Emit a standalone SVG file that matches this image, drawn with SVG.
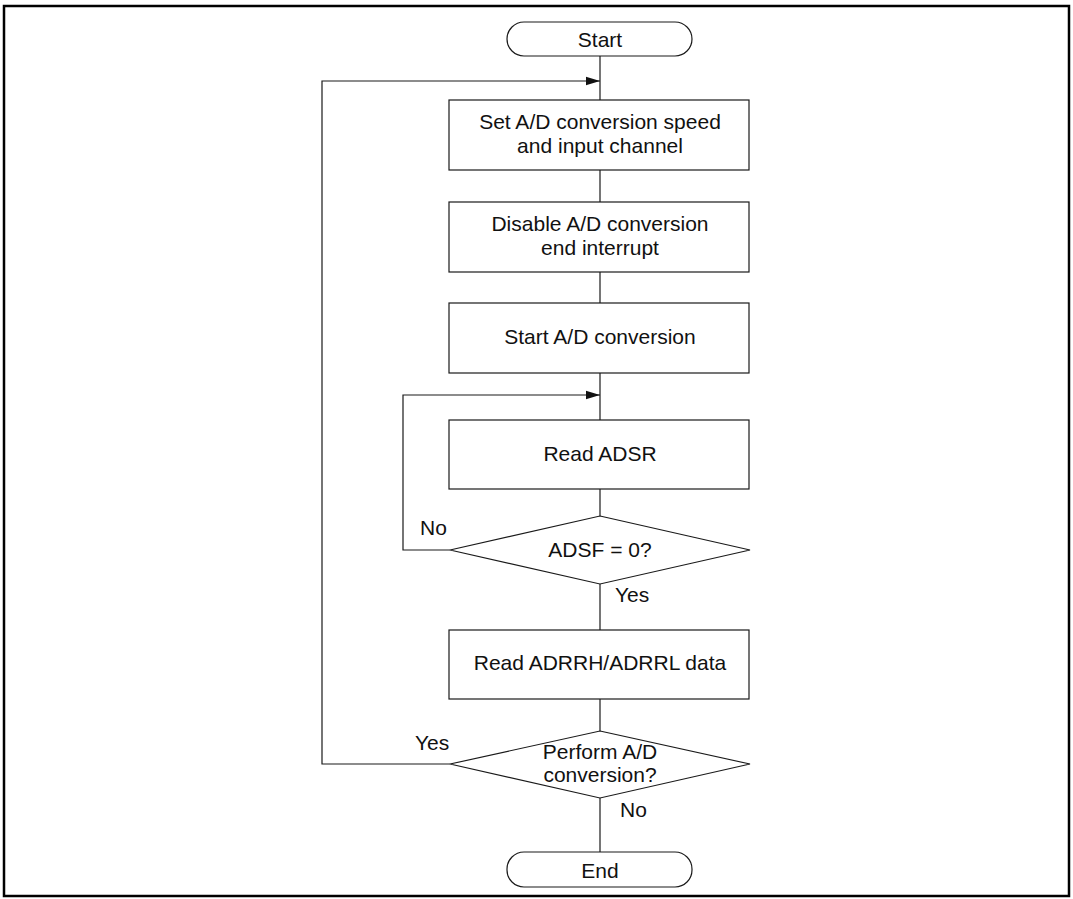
<svg xmlns="http://www.w3.org/2000/svg" width="1073" height="899" viewBox="0 0 1073 899">
<defs>
<style>
.s{fill:#fff;stroke:#1a1a1a;stroke-width:1.2}
.c{fill:none;stroke:#1a1a1a;stroke-width:1.2}
.t{font-family:"Liberation Sans",Arial,sans-serif;font-size:21px;fill:#111;text-anchor:middle}
.l{font-family:"Liberation Sans",Arial,sans-serif;font-size:21px;fill:#111}
</style>
<marker id="ah" markerWidth="15" markerHeight="10" refX="14" refY="5" orient="auto" markerUnits="userSpaceOnUse">
<path d="M0,0.8 L14,5 L0,9.2 Z" fill="#111"/>
</marker>
</defs>
<rect x="4" y="6" width="1065" height="890" fill="#fff" stroke="#000" stroke-width="2.5"/>
<g id="connectors">
<line class="c" x1="600" y1="56" x2="600" y2="100"/>
<line class="c" x1="600" y1="170" x2="600" y2="202"/>
<line class="c" x1="600" y1="272" x2="600" y2="303"/>
<line class="c" x1="600" y1="373" x2="600" y2="420"/>
<line class="c" x1="600" y1="489" x2="600" y2="516"/>
<line class="c" x1="600" y1="584" x2="600" y2="630"/>
<line class="c" x1="600" y1="699" x2="600" y2="731"/>
<line class="c" x1="600" y1="798" x2="600" y2="852"/>
<polyline class="c" points="450,550 403,550 403,395 600,395" marker-end="url(#ah)"/>
<polyline class="c" points="450,764 322,764 322,81 600,81" marker-end="url(#ah)"/>
<text class="l" x="420" y="535">No</text>
<text class="l" x="615" y="602">Yes</text>
<text class="l" x="415" y="750">Yes</text>
<text class="l" x="620" y="817">No</text>
</g>
<g id="start">
<rect class="s" x="507" y="22" width="185" height="34" rx="17" ry="17"/>
<text class="t" x="600" y="47">Start</text>
</g>
<g id="set">
<rect class="s" x="449" y="100" width="300" height="70"/>
<text class="t" x="600" y="129">Set A/D conversion speed</text>
<text class="t" x="600" y="153">and input channel</text>
</g>
<g id="disable">
<rect class="s" x="449" y="202" width="300" height="70"/>
<text class="t" x="600" y="231">Disable A/D conversion</text>
<text class="t" x="600" y="255">end interrupt</text>
</g>
<g id="startad">
<rect class="s" x="449" y="303" width="300" height="70"/>
<text class="t" x="600" y="344">Start A/D conversion</text>
</g>
<g id="readadsr">
<rect class="s" x="449" y="420" width="300" height="69"/>
<text class="t" x="600" y="461">Read ADSR</text>
</g>
<g id="adsf">
<polygon class="s" points="600,516 750,550 600,584 450,550"/>
<text class="t" x="600" y="557">ADSF = 0?</text>
</g>
<g id="readdata">
<rect class="s" x="449" y="630" width="300" height="69"/>
<text class="t" x="600" y="670">Read ADRRH/ADRRL data</text>
</g>
<g id="perform">
<polygon class="s" points="600,731 750,764 600,798 450,764"/>
<text class="t" x="600" y="759">Perform A/D</text>
<text class="t" x="600" y="782">conversion?</text>
</g>
<g id="end">
<rect class="s" x="507" y="852" width="185" height="35" rx="17" ry="17"/>
<text class="t" x="600" y="878">End</text>
</g>
</svg>
